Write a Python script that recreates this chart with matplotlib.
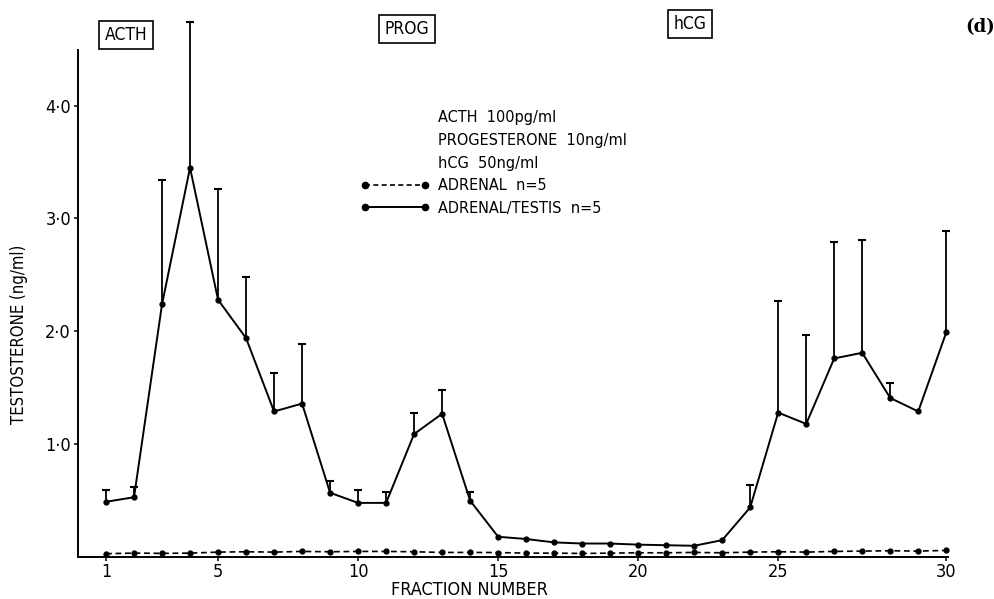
import numpy as np
import matplotlib.pyplot as plt
from matplotlib.lines import Line2D

plt.rcParams['font.family'] = ['DejaVu Sans']
plt.rcParams['font.stretch'] = 'condensed'

# fraction index (31 fractions collected)
fraction = np.arange(1, 32)

# ADRENAL/TESTIS n=5, mean testosterone (ng/ml)
testis_mean = [0.49, 0.53, 2.24, 3.45, 2.28, 1.94, 1.29, 1.36, 0.57, 0.48,
               0.48, 1.09, 1.27, 0.50, 0.18, 0.16, 0.13, 0.12, 0.12, 0.11,
               0.105, 0.10, 0.15, 0.44, 1.28, 1.18, 1.76, 1.81, 1.41, 1.29,
               1.99]
# top of the error bar (mean + SEM), None where no bar is drawn
testis_top = [0.59, 0.62, 3.34, 4.74, 3.26, 2.48, 1.63, 1.89, 0.67, 0.59,
              0.58, 1.28, 1.48, 0.58, None, None, None, None, None, None,
              None, None, None, 0.64, 2.27, 1.97, 2.79, 2.81, 1.54, None,
              2.89]

# ADRENAL n=5
adrenal_mean = [0.030, 0.035, 0.033, 0.035, 0.044, 0.047, 0.044, 0.050, 0.047,
                0.050, 0.050, 0.047, 0.041, 0.041, 0.040, 0.035, 0.035, 0.032,
                0.035, 0.038, 0.038, 0.041, 0.038, 0.044, 0.047, 0.044, 0.050,
                0.053, 0.056, 0.053, 0.059]

tick_pos = [1, 5, 10, 15, 20, 25, 31]
tick_labels = ['1', '5', '10', '15', '20', '25', '30']
ytick_pos = [1, 2, 3, 4]
ytick_labels = ['1·0', '2·0', '3·0', '4·0']

legend_labels = ['ACTH  100pg/ml', 'PROGESTERONE  10ng/ml', 'hCG  50ng/ml',
                 'ADRENAL  n=5', 'ADRENAL/TESTIS  n=5']
stim_labels = ['ACTH', 'PROG', 'hCG']

fig = plt.figure(figsize=(9.95, 5.99), dpi=100)
ax = fig.add_axes([0.0784, 0.070, 0.874, 0.846])

# error bars (upper only)
top = np.array([np.nan if t is None else t for t in testis_top])
mean = np.array(testis_mean)
has = ~np.isnan(top)
ax.vlines(fraction[has], mean[has], top[has], color='black', lw=1.3, clip_on=False)
ax.scatter(fraction[has], top[has], marker='_', s=40, color='black', lw=1.5,
           clip_on=False, zorder=3)

ax.plot(fraction, testis_mean, '-', color='black', lw=1.4, marker='o', ms=3.5,
        clip_on=False, zorder=4)
ax.plot(fraction, adrenal_mean, color='black', lw=1.2, ls=(0, (3.5, 2.2)),
        marker='o', ms=3.5, clip_on=False, zorder=4)

ax.set_xlim(0, 31.05)
ax.set_ylim(0, 4.49)
ax.spines['top'].set_visible(False)
ax.spines['right'].set_visible(False)
ax.spines['left'].set_linewidth(1.4)
ax.spines['bottom'].set_linewidth(1.4)
ax.set_xticks(tick_pos)
ax.set_xticklabels(tick_labels, fontsize=13)
ax.set_yticks(ytick_pos)
ax.set_yticklabels(ytick_labels, fontsize=13)
ax.tick_params(axis='both', length=3, width=1.1, direction='out')
ax.tick_params(axis='x', pad=1)
ax.tick_params(axis='y', pad=2)

ax.set_xlabel('FRACTION NUMBER', fontsize=13)
ax.xaxis.set_label_coords(0.45, -0.048)
ax.set_ylabel('TESTOSTERONE (ng/ml)', fontsize=12)
ax.yaxis.set_label_coords(-0.058, 0.44)

# stimulus boxes
box = dict(boxstyle='square,pad=0.3', fc='white', ec='black', lw=1.2)
fig.text(126 / 995, 1 - 35 / 599, stim_labels[0], fontsize=12.5, ha='center',
         va='center', bbox=box)
fig.text(407 / 995, 1 - 29 / 599, stim_labels[1], fontsize=12.5, ha='center',
         va='center', bbox=box)
fig.text(690 / 995, 1 - 24 / 599, stim_labels[2], fontsize=12.5, ha='center',
         va='center', bbox=box)
fig.text(980 / 995, 1 - 27 / 599, '(d)', fontsize=13, fontweight='bold',
         family='DejaVu Serif', stretch='normal', ha='center', va='center')

handles = [Line2D([], [], color='none')] * 3 + [
    Line2D([], [], color='black', lw=1.2, ls=(0, (3, 2)), marker='o', ms=4.5),
    Line2D([], [], color='black', lw=1.4, marker='o', ms=4.5),
]
leg = fig.legend(handles, legend_labels, loc='upper left',
                 bbox_to_anchor=(352 / 995, 1 - 102 / 599), frameon=False,
                 fontsize=11.6, numpoints=2, handlelength=4.3,
                 handletextpad=0.55, labelspacing=0.48, borderpad=0)

fig.savefig('out.png', dpi=100)
